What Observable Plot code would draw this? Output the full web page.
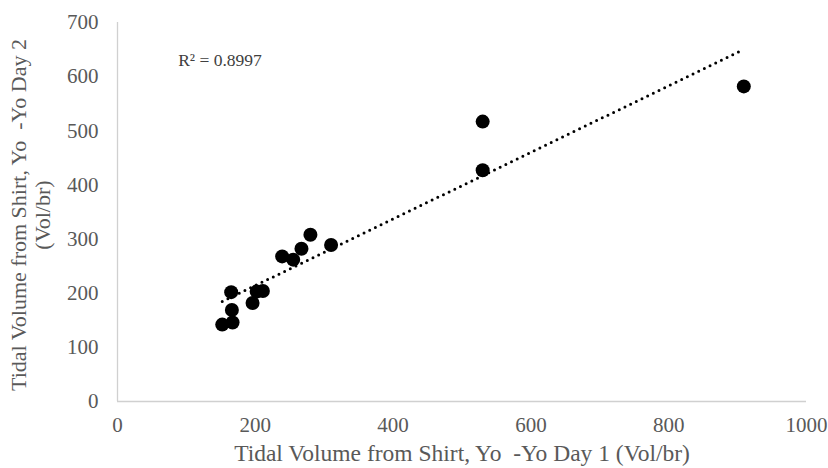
<!DOCTYPE html>
<html>
<head>
<meta charset="utf-8">
<script src="https://cdn.jsdelivr.net/npm/d3@7"></script>
<script src="https://cdn.jsdelivr.net/npm/@observablehq/plot@0.6"></script>
<style>
  html, body { margin: 0; padding: 0; background: #fff; }
  #chart { width: 828px; height: 468px; }
</style>
</head>
<body>
<div id="chart"></div>
<script>
// Tidal volume, Day 1 (x) vs Day 2 (y), Vol/br
const day1 = [152, 167, 166, 165, 196, 202, 211, 239, 255, 267, 280, 310, 530, 530, 909];
const day2 = [142, 146, 169, 202, 182, 203, 204, 268, 262, 282, 308, 289, 517, 427, 582];
const xTicks = [0, 200, 400, 600, 800, 1000];
const yTicks = [0, 100, 200, 300, 400, 500, 600, 700];
const r2Label = ["R² = 0.8997"];
const r2Pos = [{x: 88, y: 630}];
const xTitle = "Tidal Volume from Shirt, Yo  -Yo Day 1 (Vol/br)";
const yTitle = ["Tidal Volume from Shirt, Yo  -Yo Day 2", "(Vol/br)"];

const data = day1.map((x, i) => ({x, y: day2[i]}));
const font = "'Liberation Serif', 'Times New Roman', serif";

const chart = Plot.plot({
  width: 828,
  height: 468,
  marginLeft: 117,
  marginRight: 22,
  marginTop: 22,
  marginBottom: 67,
  style: {fontFamily: font, fontSize: "21px", color: "#595959", background: "#fff"},
  x: {domain: [0, 1000], ticks: xTicks},
  y: {domain: [0, 700], ticks: yTicks},
  marks: [
    Plot.axisX({ticks: xTicks, tickFormat: d3.format("d"), tickSize: 0, tickPadding: 16, label: null, fontSize: 21, fill: "#595959"}),
    Plot.axisY({ticks: yTicks, tickFormat: d3.format("d"), tickSize: 0, tickPadding: 19, label: null, fontSize: 21, fill: "#595959"}),
    Plot.ruleY([0], {stroke: "#d0d0d0", strokeWidth: 1.3}),
    Plot.ruleX([0], {stroke: "#d0d0d0", strokeWidth: 1.3}),
    Plot.linearRegressionY(data, {x: "x", y: "y", ci: 0, stroke: "#000", strokeWidth: 3, strokeDasharray: "0,6.3", strokeLinecap: "round"}),
    Plot.dot(data, {x: "x", y: "y", r: 7, fill: "#000", stroke: "none"}),
    Plot.text(r2Pos, {x: "x", y: "y", text: () => r2Label[0], textAnchor: "start", fontSize: 17.5, fill: "#404040"})
  ]
});
document.getElementById("chart").appendChild(chart);

const svg = d3.select(chart);
svg.append("text")
  .attr("x", 462).attr("y", 461)
  .attr("text-anchor", "middle")
  .attr("font-family", font).attr("font-size", 23.5).attr("fill", "#595959")
  .text(xTitle);
yTitle.forEach((t, i) => {
  svg.append("text")
    .attr("transform", `translate(${26 + i * 24},215) rotate(-90)`)
    .attr("text-anchor", "middle")
    .attr("font-family", font).attr("font-size", 22).attr("fill", "#595959")
    .text(t);
});
</script>
</body>
</html>
